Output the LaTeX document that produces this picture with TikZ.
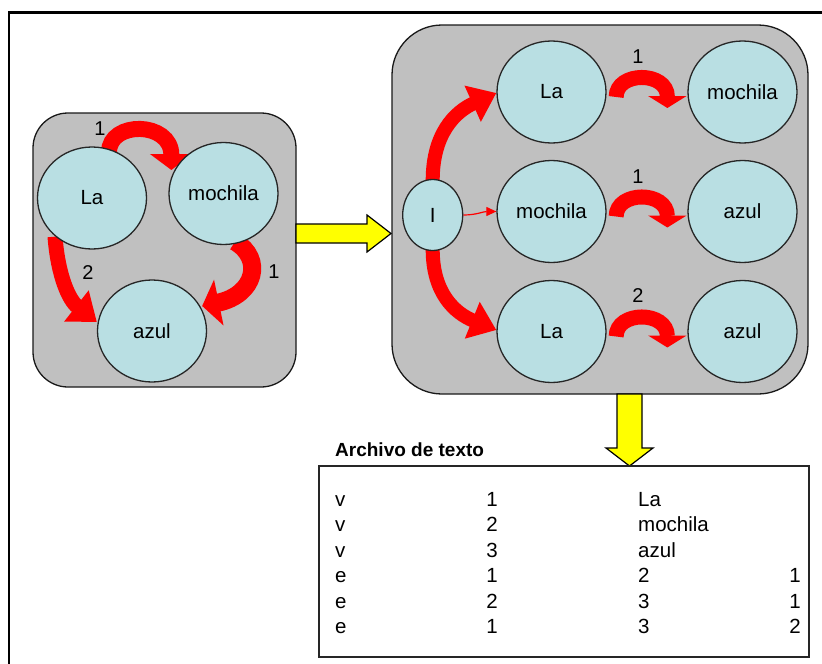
\documentclass[tikz,border=0pt]{standalone}
\usepackage{fontspec}
\setmainfont{Liberation Sans}
\usetikzlibrary{shapes.geometric,arrows.meta,calc}
\pgfdeclarelayer{boxes}
\pgfdeclarelayer{arrows}
\pgfsetlayers{boxes,arrows,main}
\definecolor{boxgray}{HTML}{C0C0C0}
\definecolor{nodeblue}{HTML}{B9DFE3}
\definecolor{arrowred}{HTML}{FF0000}
\definecolor{blockyellow}{HTML}{FFFF00}
\begin{document}
\begin{tikzpicture}[x=1pt,y=-1pt,
  graybox/.style={rectangle, draw=black!90, line width=1.3pt, fill=boxgray, inner sep=0pt},
  word/.style={ellipse, draw=black!85, line width=1.3pt, fill=nodeblue, inner sep=0pt,
    minimum width=109pt, minimum height=102pt, font=\fontsize{20.5}{24}\selectfont},
  weight/.style={inner sep=0pt, font=\fontsize{20}{24}\selectfont},
  cell/.style={inner sep=0pt, font=\fontsize{20.5}{24}\selectfont},
  bendarrow/.style={draw=arrowred, line cap=butt},
  blockarrow/.style={draw=black, line width=1.2pt, fill=blockyellow, line join=miter}
]
\useasboundingbox (0,0) rectangle (822,664);

% frame
\draw[line width=2.5pt] (9,664) -- (9,12.5) -- (822,12.5);

% rounded gray panels
\begin{pgfonlayer}{boxes}
  \node[graybox, rounded corners=35pt, minimum width=263pt, minimum height=274pt] (lbox) at (164.5,250) {};
  \node[graybox, rounded corners=50pt, minimum width=416pt, minimum height=369pt] (rbox) at (600,209.5) {};
\end{pgfonlayer}

% word graph
\node[word] (la0) at (92,198) {La};
\node[word] (mo0) at (223.5,193.5) {mochila};
\node[word] (az0) at (152,331) {azul};

% tree of word pairs
\node[word, minimum width=60pt, minimum height=71pt] (root) at (432.7,215) {I};
\node[word] (la1) at (551.5,92) {La};
\node[word] (mo1) at (742.5,92) {mochila};
\node[word] (mo2) at (551.5,211.5) {mochila};
\node[word] (az2) at (742.5,211.5) {azul};
\node[word] (la3) at (551.5,331.5) {La};
\node[word] (az3) at (742.5,331.5) {azul};

% weights
\node[weight] (w01) at (100,129) {1};
\node[weight] (w02) at (88,273) {2};
\node[weight] (w03) at (274,272) {1};
\node[weight] (w1) at (638,57) {1};
\node[weight] (w2) at (638,177) {1};
\node[weight] (w3) at (638,296) {2};

\begin{pgfonlayer}{arrows}
  % word graph
  \draw[bendarrow, line width=16pt, -{Triangle[width=42pt,length=16pt]}]
    ($(la0.north)+(17,6)$) .. controls +(0,-32) and +(0,-49) .. ($(mo0.west)+(3,-23.5)$);
  \draw[bendarrow, line width=18pt, -{Triangle[width=46pt,length=17pt]}]
    ($(mo0.south)+(11.5,-3.5)$) .. controls +(29,17) and +(53,-11) .. ($(az0.east)+(-5,-25)$);
  \draw[bendarrow, line width=15pt, -{Triangle[width=38pt,length=26pt]}]
    ($(la0.south)+(-37,-13)$) .. controls +(3,39) and +(-28,-22) .. ($(az0.west)+(0,-9)$);
  % tree
  \draw[bendarrow, line width=14pt, -{Triangle[width=38pt,length=26pt]}]
    ($(root.north)+(0,1.5)$) .. controls +(0,-46) and +(-42,19) .. ($(la1.west)+(0,1)$);
  \draw[bendarrow, line width=14pt, -{Triangle[width=38pt,length=26pt]}]
    ($(root.south)+(0,-1.5)$) .. controls +(0,43) and +(-42,-17) .. ($(la3.west)+(0,-1.5)$);
  \draw[draw=arrowred, line width=1.2pt, -{Triangle[width=9pt,length=10pt]}]
    (root.east) to[out=0,in=180] (mo2.west);
  \draw[bendarrow, line width=15pt, -{Triangle[width=38pt,length=12pt]}]
    ($(la1.east)+(9.5,5)$) .. controls +(0,-26) and +(0,-37) .. ($(mo1.west)+(-20,16)$);
  \draw[bendarrow, line width=15pt, -{Triangle[width=38pt,length=12pt]}]
    ($(mo2.east)+(9.5,5)$) .. controls +(0,-26) and +(0,-37) .. ($(az2.west)+(-20,16)$);
  \draw[bendarrow, line width=15pt, -{Triangle[width=38pt,length=12pt]}]
    ($(la3.east)+(9.5,5)$) .. controls +(0,-26) and +(0,-37) .. ($(az3.west)+(-20,16)$);
\end{pgfonlayer}

% yellow block arrows
\draw[blockarrow] (296,224) -- (367,224) -- (367,215) -- (391,233.5) -- (367,252) -- (367,243) -- (296,243) -- cycle;
\draw[blockarrow] (617,394) -- (617,448) -- (606,448) -- (629.5,466) -- (653,448) -- (642,448) -- (642,394) -- cycle;

% text file
\node[rectangle, draw=black!85, line width=1.3pt, inner sep=0pt, minimum width=490pt, minimum height=191pt] (file) at (564,561.5) {};
\node[anchor=base west, inner sep=0pt, font=\bfseries\fontsize{19}{22}\selectfont] (title) at (335,456.5) {Archivo de texto};
\foreach [count=\i] \a/\b/\c/\d in {v/1/La/, v/2/mochila/, v/3/azul/, e/1/2/1, e/2/3/1, e/1/3/2} {
  \path (335,480.5+25.5*\i) node[cell, anchor=base west] (t\i-a) {\a}
        (492,480.5+25.5*\i) node[cell, anchor=base] (t\i-b) {\b}
        (638,480.5+25.5*\i) node[cell, anchor=base west] (t\i-c) {\c}
        (801,480.5+25.5*\i) node[cell, anchor=base east] (t\i-d) {\d};
}
\end{tikzpicture}
\end{document}
